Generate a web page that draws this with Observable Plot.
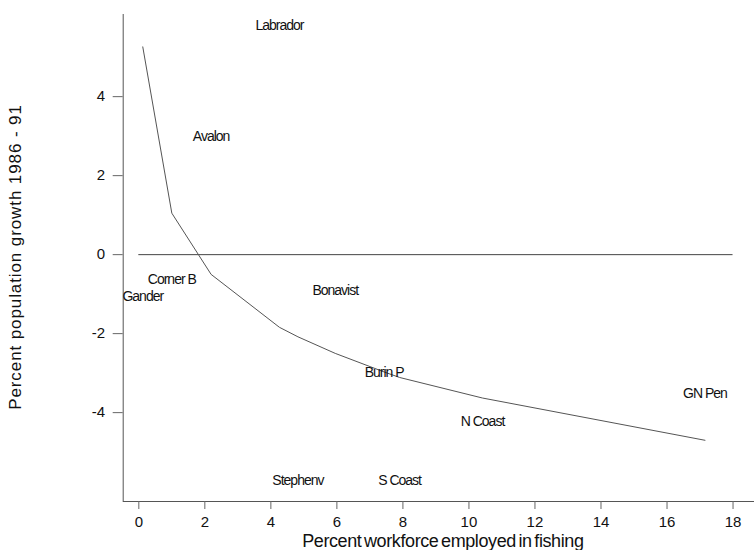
<!DOCTYPE html>
<html>
<head>
<meta charset="utf-8">
<script src="https://cdn.jsdelivr.net/npm/d3@7"></script>
<script src="https://cdn.jsdelivr.net/npm/@observablehq/plot@0.6"></script>
<style>
  html, body { margin: 0; padding: 0; background: #fff; }
  #chart { width: 754px; height: 550px; }
</style>
</head>
<body>
<div id="chart"></div>
<script>
// Regions of Newfoundland
const regions  = ["Gander", "Corner B", "Avalon", "Labrador", "Stephenv", "Bonavist", "Burin P", "S Coast", "N Coast", "GN Pen"];
// Percent workforce employed in fishing
const fishing  = [0.12, 1.0, 2.19, 4.26, 4.82, 5.95, 7.43, 7.90, 10.41, 17.15];
// Percent population growth 1986 - 91 (observed, drawn as labels)
const growth   = [-1.06, -0.62, 2.99, 5.80, -5.71, -0.92, -2.99, -5.72, -4.22, -3.51];
// Fitted growth at each region's fishing share (drawn as line)
const fitted   = [5.26, 1.05, -0.50, -1.84, -2.08, -2.50, -2.97, -3.11, -3.63, -4.70];
const xTicks = [0, 2, 4, 6, 8, 10, 12, 14, 16, 18];
const yTicks = [-4, -2, 0, 2, 4];

const xTitle = "Percent workforce employed in fishing";
const yTitle = "Percent population growth 1986 - 91";

const rows = regions.map((r, i) => ({region: r, x: fishing[i], y: growth[i], fit: fitted[i]}));

const xMin = -0.473, xMax = 18.65;
const yMin = -6.25, yMax = 6.08;

const plot = Plot.plot({
  width: 754,
  height: 550,
  marginLeft: 122.7,
  marginRight: 0,
  marginTop: 14,
  marginBottom: 49,
  style: {fontFamily: "'Liberation Sans', Arial, sans-serif", color: "#111", background: "#fff"},
  x: {domain: [xMin, xMax]},
  y: {domain: [yMin, yMax]},
  marks: [
    Plot.ruleX([xMin], {stroke: "#555", strokeWidth: 1}),
    Plot.ruleY([yMin], {stroke: "#555", strokeWidth: 1}),
    Plot.axisX({ticks: xTicks, tickSize: 8, tickPadding: 7, fontSize: 15, stroke: "#666", fill: "#111", label: null, tickFormat: d => String(d)}),
    Plot.axisY({ticks: yTicks, tickSize: 10, tickPadding: 8, fontSize: 15, stroke: "#666", fill: "#111", label: null, tickFormat: d => String(d)}),
    Plot.ruleY([0], {x1: 0, x2: 18, stroke: "#444", strokeWidth: 1}),
    Plot.line(rows, {x: "x", y: "fit", stroke: "#555", strokeWidth: 1}),
    Plot.text(rows, {x: "x", y: "y", text: "region", fontSize: 14, fill: "#111", className: "ptlabel"}),
    Plot.text([xTitle], {frameAnchor: "bottom", lineAnchor: "middle", textAnchor: "middle", text: d => d, dy: 40, dx: 4, fontSize: 18, fill: "#111", className: "xtitle"}),
    Plot.text([yTitle], {frameAnchor: "left", lineAnchor: "middle", textAnchor: "middle", text: d => d, dx: -107.7, dy: -1, rotate: -90, fontSize: 17, fill: "#111", className: "ytitle"})
  ]
});

d3.select(plot).selectAll(".ptlabel text").style("letter-spacing", "-1px");
d3.select(plot).selectAll(".xtitle text").style("letter-spacing", "-0.4px").style("word-spacing", "-2px");
d3.select(plot).selectAll(".ytitle text").style("letter-spacing", "0.9px");

document.getElementById("chart").appendChild(plot);
</script>
</body>
</html>
